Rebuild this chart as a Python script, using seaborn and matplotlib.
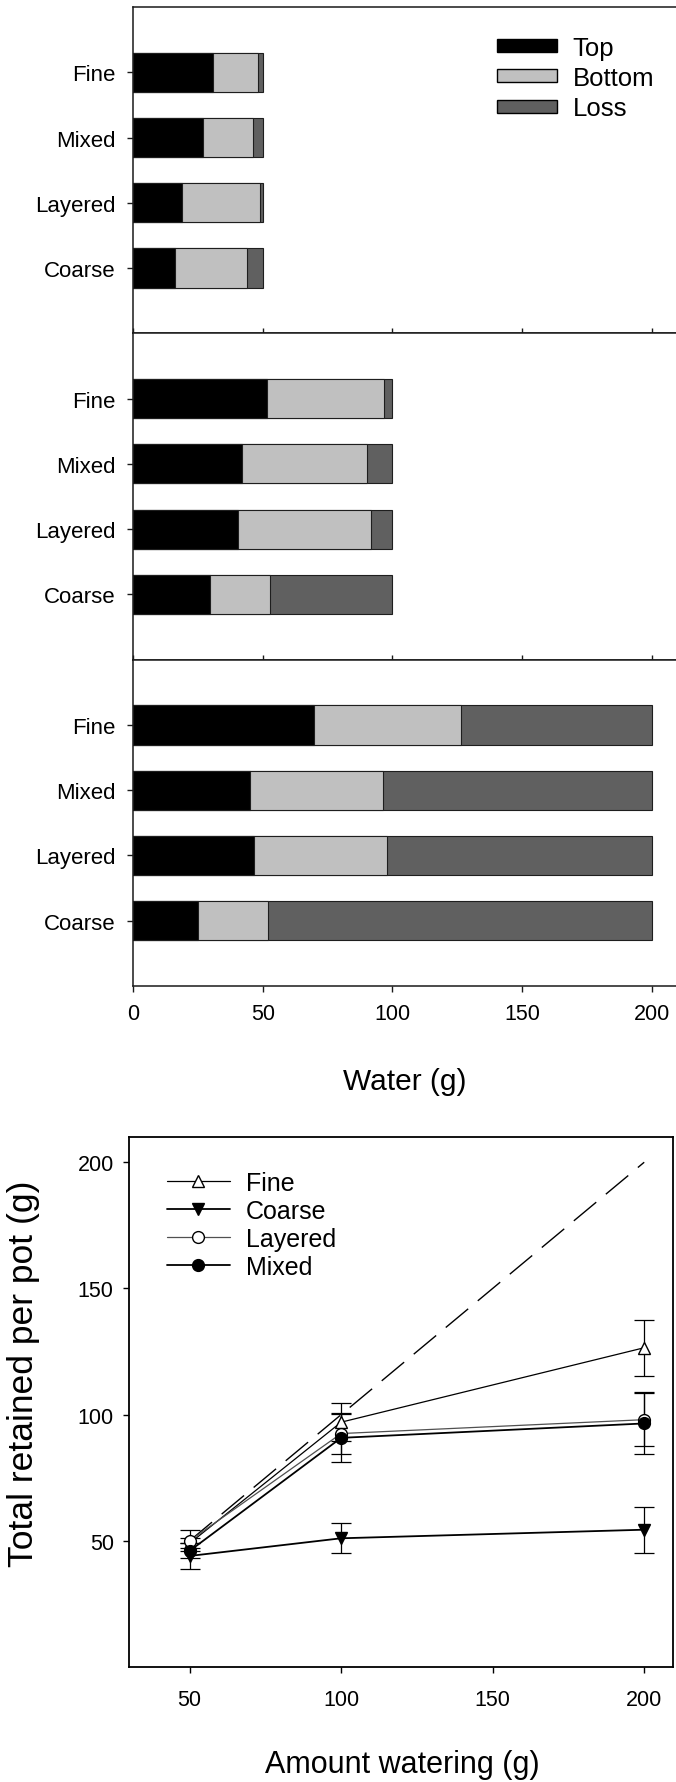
import matplotlib
matplotlib.use("Agg")
import matplotlib.pyplot as plt
from matplotlib.patches import Patch
import seaborn as sns

# ---- data ---------------------------------------------------------------
soils = ["Fine", "Mixed", "Layered", "Coarse"]

# water partition (g) for each watering amount: retained in top, bottom, lost
top_50 = [30.9, 26.9, 18.8, 16.1]
bottom_50 = [17.2, 19.4, 30.3, 27.9]
loss_50 = [1.9, 3.7, 0.9, 6.0]

top_100 = [51.8, 42.0, 40.3, 29.5]
bottom_100 = [45.1, 48.1, 51.6, 23.4]
loss_100 = [3.1, 9.9, 8.1, 47.1]

top_200 = [69.9, 45.1, 46.8, 25.1]
bottom_200 = [56.6, 51.3, 51.0, 26.8]
loss_200 = [73.5, 103.6, 102.2, 148.1]

water_ticks = [0, 50, 100, 150, 200]

# total retained per pot (mean and error) against amount of watering
amounts = [50, 100, 200]
fine_mean = [49.0, 97.0, 126.5]
fine_err = [2.0, 7.6, 11.0]
coarse_mean = [44.0, 51.0, 54.4]
coarse_err = [5.2, 6.0, 9.1]
layered_mean = [50.0, 92.5, 98.0]
layered_err = [4.2, 8.2, 10.6]
mixed_mean = [46.0, 90.8, 96.5]
mixed_err = [3.0, 9.4, 12.3]
one_to_one = [50, 200]
amount_ticks = [50, 100, 150, 200]
retained_ticks = [50, 100, 150, 200]

# ---- style --------------------------------------------------------------
sns.set_theme(style="ticks")
plt.rcParams["font.family"] = ["Liberation Sans", "DejaVu Sans"]
plt.rcParams["axes.edgecolor"] = "#1a1a1a"
plt.rcParams["xtick.color"] = "#1a1a1a"
plt.rcParams["ytick.color"] = "#1a1a1a"
plt.rcParams["text.color"] = "black"
plt.rcParams["xtick.labelcolor"] = "black"
plt.rcParams["ytick.labelcolor"] = "black"

W, H = 676, 1783
fig = plt.figure(figsize=(W / 100, H / 100), dpi=100)


def rect(left, top, right, bottom):
    return [left / W, 1 - bottom / H, (right - left) / W, (bottom - top) / H]


c_top, c_bottom, c_loss = "#000000", "#c0c0c0", "#606060"
edge = "#1e1e1e"

panels = [
    (top_50, bottom_50, loss_50),
    (top_100, bottom_100, loss_100),
    (top_200, bottom_200, loss_200),
]
bounds = [(8, 334.3), (334.3, 660.7), (660.7, 987)]

for i, ((tp, bt, ls), (y0, y1)) in enumerate(zip(panels, bounds)):
    ax = fig.add_axes(rect(133, y0, 676, y1))
    total = [a + b + c for a, b, c in zip(tp, bt, ls)]
    retained = [a + b for a, b in zip(tp, bt)]
    for vals, col in ((total, c_loss), (retained, c_bottom), (tp, c_top)):
        sns.barplot(x=vals, y=soils, orient="h", color=col, saturation=1,
                    edgecolor=edge, linewidth=0.8, width=0.6, ax=ax)
    ax.set_xlim(0, 209.3)
    ax.set_ylim(4, -1)
    ax.set_xticks(water_ticks)
    ax.set_xlabel("")
    ax.set_ylabel("")
    ax.spines["right"].set_visible(False)
    for s in ("left", "top", "bottom"):
        ax.spines[s].set_linewidth(1.1)
    ax.tick_params(axis="y", direction="out", length=4.3, width=1, pad=8,
                   labelsize=16)
    if i < 2:
        ax.tick_params(axis="x", direction="in", length=3.5, width=1,
                       labelbottom=False)
    else:
        ax.tick_params(axis="x", direction="out", length=4.3, width=1,
                       pad=8, labelsize=15.5)
    if i == 0:
        handles = [Patch(facecolor=c, edgecolor="black", linewidth=1)
                   for c in (c_top, c_bottom, c_loss)]
        ax.legend(handles, ["Top", "Bottom", "Loss"], loc="upper left",
                  bbox_to_anchor=(497 / W, 1 - 37 / H),
                  bbox_transform=fig.transFigure, frameon=False,
                  borderpad=0, borderaxespad=0, fontsize=18.5,
                  handlelength=2.35, handleheight=0.4, handletextpad=0.6,
                  labelspacing=0.24)

fig.text(404.5 / W, 1 - 1082 / H, "Water (g)", ha="center", va="center",
         fontsize=21.5)

# ---- retained water vs amount of watering --------------------------------
ax = fig.add_axes(rect(129, 1138, 673, 1668))

sns.lineplot(x=one_to_one, y=one_to_one, ax=ax, color="black", lw=1,
             dashes=False, linestyle=(0, (21, 9)), errorbar=None, zorder=1)

series = [
    ("Fine", fine_mean, fine_err, "^", "white", "black", 0.9),
    ("Coarse", coarse_mean, coarse_err, "v", "black", "black", 1.3),
    ("Layered", layered_mean, layered_err, "o", "white", "#505050", 0.9),
    ("Mixed", mixed_mean, mixed_err, "o", "black", "black", 1.3),
]
for name, mean, err, mk, mfc, lc, lw in series:
    ax.errorbar(amounts, mean, yerr=err, fmt="none", ecolor="black",
                elinewidth=0.9, capsize=7, capthick=0.9, zorder=2)
    sns.lineplot(x=amounts, y=mean, ax=ax, color=lc, lw=lw, marker=mk,
                 markersize=8.5, markerfacecolor=mfc, markeredgecolor="black",
                 markeredgewidth=1, label=name, errorbar=None, sort=False,
                 zorder=3)

ax.set_xlim(30, 209.5)
ax.set_ylim(0, 210)
ax.set_xticks(amount_ticks)
ax.set_yticks(retained_ticks)
ax.set_xlabel("")
ax.set_ylabel("")
for s in ax.spines.values():
    s.set_linewidth(1.3)
    s.set_color("black")
    s.set_visible(True)
ax.tick_params(axis="both", direction="out", length=4, width=1,
               labelsize=15.5, color="black")
ax.tick_params(axis="x", pad=12)
ax.tick_params(axis="y", pad=7)

h, l = ax.get_legend_handles_labels()
ax.legend(h, l, loc="upper left", bbox_to_anchor=(167 / W, 1 - 1172 / H),
          bbox_transform=fig.transFigure, frameon=False, borderpad=0,
          borderaxespad=0, fontsize=18, handlelength=2.5,
          handletextpad=0.64, labelspacing=0.16)

fig.text(402 / W, 1 - 1765 / H, "Amount watering (g)", ha="center",
         va="center", fontsize=22)
fig.text(24 / W, 1 - 1374 / H, "Total retained per pot (g)", ha="center",
         va="center", rotation=90, fontsize=25.5)

fig.savefig("out.png", dpi=100)
